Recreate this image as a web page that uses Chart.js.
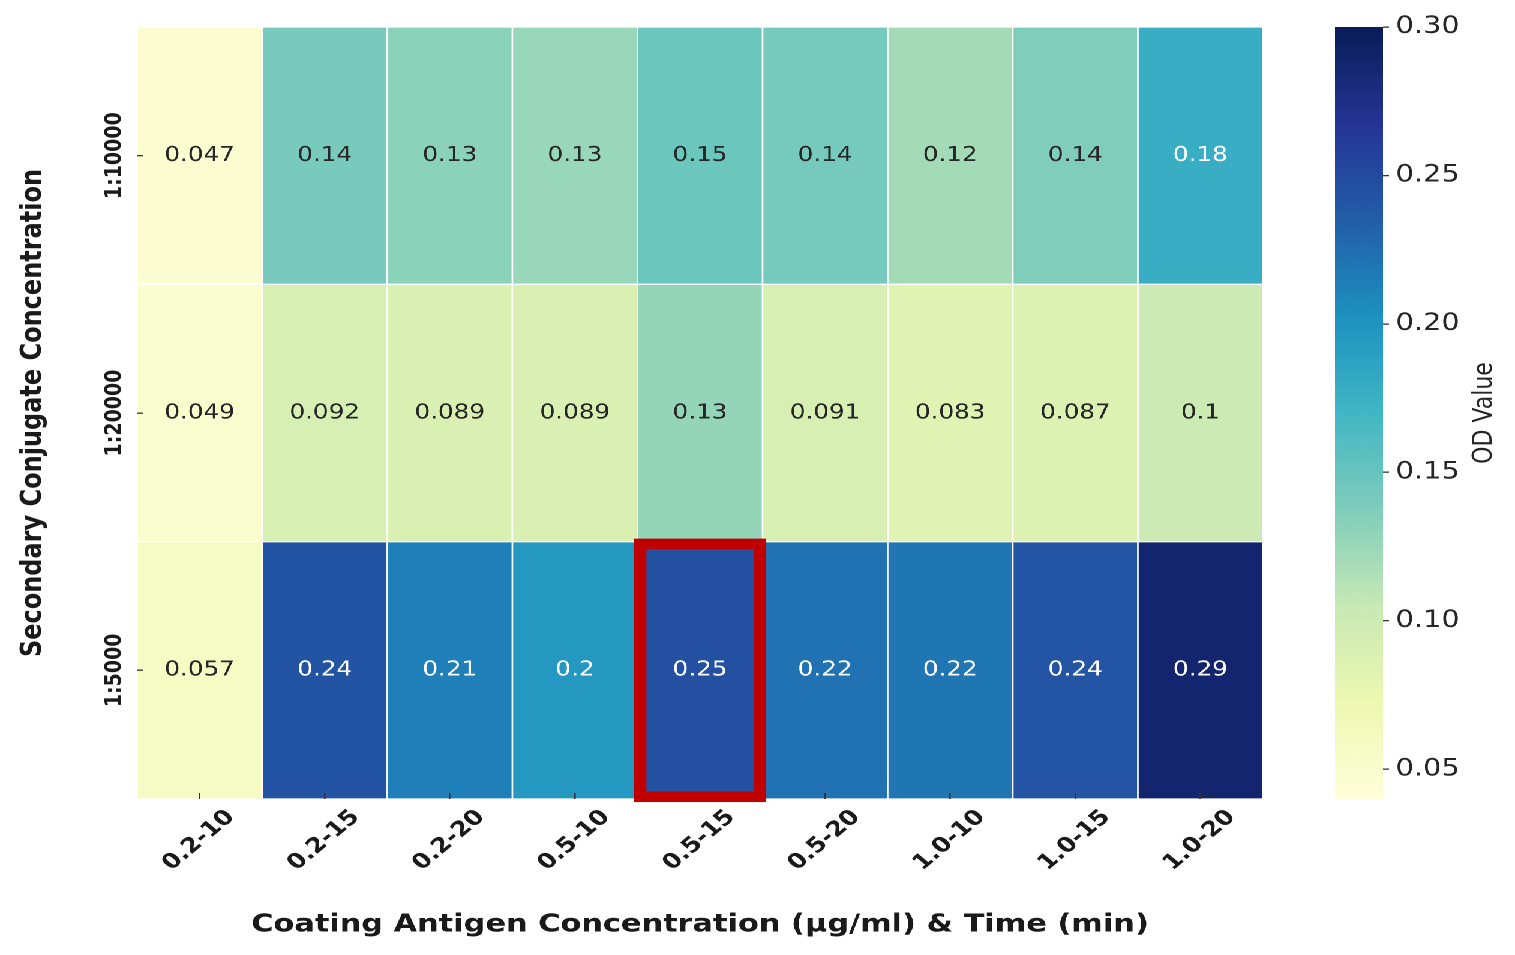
<!DOCTYPE html>
<html>
<head>
<meta charset="utf-8">
<script src="https://cdn.jsdelivr.net/npm/chart.js@4.4.1/dist/chart.umd.min.js"></script>
<style>
html,body{margin:0;padding:0;background:#fff;overflow:hidden;width:1515px;height:955px;}
#wrap{position:absolute;left:0;top:0;width:1263px;height:955px;transform:scaleX(1.2);transform-origin:0 0;}
#heat{position:absolute;left:0;top:0;}
#cbar{position:absolute;left:1080px;top:0;}
</style>
</head>
<body>
<div id="wrap">
  <canvas id="heat" width="1080" height="955"></canvas>
  <canvas id="cbar" width="183" height="955"></canvas>
</div>
<script>
// ---- data ----
const coatingTimeLabels = ['0.2-10','0.2-15','0.2-20','0.5-10','0.5-15','0.5-20','1.0-10','1.0-15','1.0-20'];
const conjugateLabels = ['1:10000','1:20000','1:5000'];
const od_1_10000 = [0.047, 0.141, 0.132, 0.126, 0.148, 0.143, 0.121, 0.137, 0.178];
const od_1_20000 = [0.049, 0.092, 0.089, 0.089, 0.128, 0.091, 0.083, 0.087, 0.102];
const od_1_5000  = [0.057, 0.243, 0.214, 0.196, 0.246, 0.222, 0.220, 0.242, 0.288];
const colorbarTicks = [0.05, 0.10, 0.15, 0.20, 0.25, 0.30];
const colorMin = 0.04;
const colorMax = 0.30;
const highlightCell = { col: '0.5-15', row: '1:5000' };
const ylgnbu = ['#ffffd9','#edf8b1','#c7e9b4','#7fcdbb','#41b6c4','#1d91c0','#225ea8','#253494','#081d58'];

const F = "'DejaVu Sans'";
const rowValues = [od_1_10000, od_1_20000, od_1_5000];

function hex2rgb(h){ return [1,3,5].map(i=>parseInt(h.substr(i,2),16)); }
function cmap(v){
  let t=(v-colorMin)/(colorMax-colorMin); t=Math.max(0,Math.min(1,t));
  const s=t*(ylgnbu.length-1); const i=Math.min(Math.floor(s), ylgnbu.length-2); const f=s-i;
  const a=hex2rgb(ylgnbu[i]), b=hex2rgb(ylgnbu[i+1]);
  return a.map((c,k)=>Math.round(c+(b[k]-c)*f));
}
function rgbStr(c){ return `rgb(${c[0]},${c[1]},${c[2]})`; }
function textColorFor(v){
  const c=cmap(v).map(x=>{x/=255; return x<=0.03928? x/12.92 : Math.pow((x+0.055)/1.055,2.4);});
  const lum=0.2126*c[0]+0.7152*c[1]+0.0722*c[2];
  return lum>0.408 ? '#262626' : '#ffffff';
}
function fmt(v){ return String(Number(v.toPrecision(2))); }

const cellText = {
  id:'cellText',
  afterDatasetsDraw(chart){
    const ctx=chart.ctx; ctx.save();
    ctx.font=`20.5px ${F}`; ctx.textAlign='center'; ctx.textBaseline='middle';
    chart.data.datasets.forEach((ds,di)=>{
      const meta=chart.getDatasetMeta(di);
      meta.data.forEach((bar,ci)=>{
        const v=ds.odValues[ci];
        const p=bar.getProps(['x','y','base'],true);
        ctx.fillStyle=textColorFor(v);
        ctx.fillText(fmt(v), p.x, (p.y+p.base)/2);
      });
    });
    ctx.restore();
  }
};

const highlightBox = {
  id:'highlightBox',
  afterDraw(chart){
    const xs=chart.scales.x, ys=chart.scales.y, ctx=chart.ctx;
    const ci=coatingTimeLabels.indexOf(highlightCell.col), ri=conjugateLabels.indexOf(highlightCell.row);
    const half=(xs.getPixelForValue(1)-xs.getPixelForValue(0))/2;
    const x0=xs.getPixelForValue(ci)-half, x1=xs.getPixelForValue(ci)+half;
    const y0=ys.getPixelForValue(ri), y1=ys.getPixelForValue(ri+1);
    const ins=2.2;
    ctx.save();
    ctx.strokeStyle='#C00000'; ctx.lineWidth=10.5;
    ctx.strokeRect(x0+ins, y0+ins, (x1-x0)-2*ins, (y1-y0)-2*ins);
    ctx.restore();
  }
};

new Chart(document.getElementById('heat'), {
  type:'bar',
  data:{
    labels: coatingTimeLabels,
    datasets: conjugateLabels.map((row,ri)=>({
      label: row,
      odValues: rowValues[ri],
      data: coatingTimeLabels.map(()=>[ri, ri+1]),
      backgroundColor: rowValues[ri].map(v=>rgbStr(cmap(v))),
      borderColor:'#ffffff', borderWidth:1, borderSkipped:false,
      barPercentage:1, categoryPercentage:1, grouped:false
    }))
  },
  options:{
    responsive:false, devicePixelRatio:2, animation:false, events:[],
    layout:{padding:{left:0, top:27, right:27.5, bottom:0}},
    plugins:{legend:{display:false}, tooltip:{enabled:false}},
    scales:{
      x:{
        type:'category', offset:true,
        grid:{offset:false, drawOnChartArea:false, tickLength:-6, color:'#333333', lineWidth:1.3, z:1},
        border:{display:false},
        ticks:{font:{family:F,size:21,weight:'bold'}, color:'#1a1a1a', minRotation:45, maxRotation:45, labelOffset:26, padding:12, autoSkip:false},
        title:{display:true, text:'Coating Antigen Concentration (µg/ml) & Time (min)', font:{family:F,size:25.3,weight:'bold'}, color:'#1a1a1a', padding:{top:0,bottom:15}},
        afterFit(s){ s.height=156; }
      },
      y:{
        type:'linear', min:0, max:3, reverse:true,
        afterBuildTicks(s){ s.ticks=conjugateLabels.map((_,i)=>({value:i+0.5})); },
        grid:{drawOnChartArea:false, tickLength:-5, color:'#333333', lineWidth:1.3, z:1},
        border:{display:false},
        ticks:{callback:(v,i)=>conjugateLabels[i], font:{family:F,size:19,weight:'bold'}, color:'#1a1a1a', minRotation:90, maxRotation:90, crossAlign:'center', padding:-20, autoSkip:false},
        title:{display:true, text:'Secondary Conjugate Concentration', font:{family:F,size:24,weight:'bold'}, color:'#1a1a1a', padding:{top:13.6,bottom:0}},
        afterFit(s){ s.width=114.2; }
      }
    }
  },
  plugins:[cellText, highlightBox]
});

const odLabel = {
  id:'odLabel',
  afterDraw(chart){
    const ctx=chart.ctx, ca=chart.chartArea;
    ctx.save();
    ctx.translate(157.5, (ca.top+ca.bottom)/2);
    ctx.rotate(-Math.PI/2);
    ctx.font=`22px ${F}`; ctx.fillStyle='#262626'; ctx.textAlign='center'; ctx.textBaseline='middle';
    ctx.fillText('OD Value', 0, 0);
    ctx.restore();
  }
};

function gradientFill(context){
  const chart=context.chart; const ca=chart.chartArea;
  if(!ca) return ylgnbu[0];
  const ys=chart.scales.y;
  const yb=ys.getPixelForValue(colorMin), yt=ys.getPixelForValue(colorMax);
  const g=chart.ctx.createLinearGradient(0,yb,0,yt);
  ylgnbu.forEach((c,i)=>g.addColorStop(i/(ylgnbu.length-1), c));
  return g;
}

new Chart(document.getElementById('cbar'), {
  type:'bar',
  data:{ labels:['OD Value'], datasets:[{ data:[[colorMin,colorMax]], backgroundColor:gradientFill, borderWidth:0, barPercentage:1, categoryPercentage:1 }]},
  options:{
    responsive:false, devicePixelRatio:2, animation:false, events:[],
    layout:{padding:{left:32.5, top:27, bottom:156, right:0}},
    plugins:{legend:{display:false}, tooltip:{enabled:false}},
    scales:{
      x:{display:false},
      y:{
        position:'right', min:colorMin, max:colorMax,
        afterBuildTicks(s){ s.ticks=colorbarTicks.map(v=>({value:v})); },
        ticks:{callback:v=>v.toFixed(2), font:{family:F,size:24}, color:'#262626', padding:5.5},
        grid:{drawOnChartArea:false, tickLength:5, color:'#333333', lineWidth:1.3},
        border:{display:false},
        afterFit(s){ s.width=110.5; }
      }
    }
  },
  plugins:[odLabel]
});
</script>
</body>
</html>
